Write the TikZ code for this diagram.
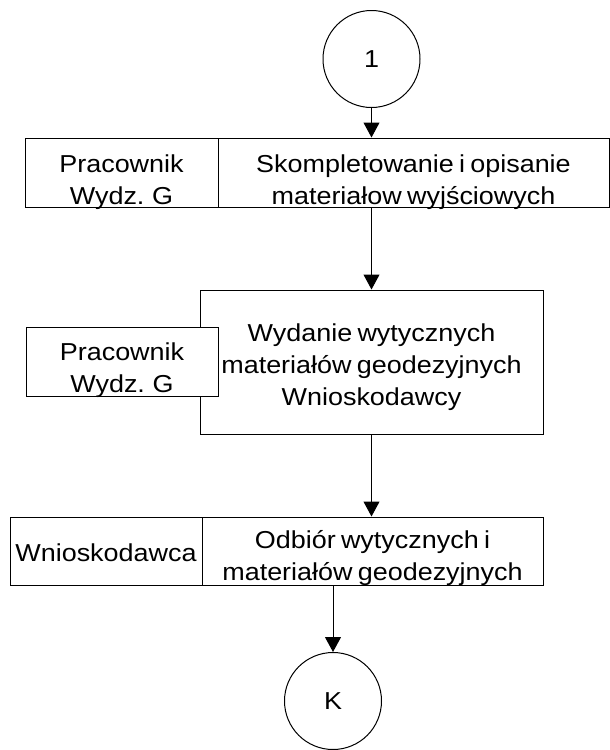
\documentclass[tikz,border=0pt]{standalone}
\usepackage{fontspec}
\setmainfont{Liberation Sans}[FakeStretch=1.1,WordSpace=0.7]
\usetikzlibrary{arrows.meta}
\begin{document}
\begin{tikzpicture}
[x=1pt,y=-1pt,
 boxdecorate/.style={shape=rectangle,draw,line width=1pt,fill=white,inner sep=0pt},%
 circledecorate/.style={shape=circle,draw,line width=1pt,inner sep=0pt,minimum size=97pt},%
 textdecorate/.style={align=center,inner sep=0pt,font=\fontsize{24.5}{32}\selectfont},%
 linedecorate/.style={-{Triangle[length=15pt,width=16pt]},line width=1pt}]
\useasboundingbox (0,0) rectangle (610,750);
%% connectors
\node (one) at (371.5,59) [circledecorate,textdecorate] {1};
\node (k) at (333,701) [circledecorate,textdecorate] {K};
%% boxes
\foreach \nodename/\x/\y/\w/\h in {kompletowaniepr/121.5/172.5/193/69,
  kompletowanie/413.5/172.5/391/69, wydanie/371.5/362/343/144,
  wydaniepr/122/361.5/192/69, odbiorwn/106/551/192/68, odbior/372.5/551/341/68} {
  \node (\nodename) at (\x,\y) [boxdecorate,minimum width=\w pt,minimum height=\h pt] {};
}
%% texts
\foreach \nodename/\dy/\txt in {kompletowaniepr/10/{Pracownik\\Wydz. G},
  kompletowanie/10/{Skompletowanie i opisanie\\materiałow wyjściowych},
  wydanie/5/{Wydanie wytycznych\\materiałów geodezyjnych\\Wnioskodawcy},
  wydaniepr/8.5/{Pracownik\\Wydz. G}, odbiorwn/2/{Wnioskodawca},
  odbior/7/{Odbiór wytycznych i\\materiałów geodezyjnych}} {
  \node (\nodename-text) at ([yshift=-\dy pt]\nodename.center) [textdecorate] {\txt};
}
%% edges or lines
\path (one) edge[linedecorate] (one |- kompletowanie.north)
  (wydanie |- kompletowanie.south) edge[linedecorate] (wydanie)
  (wydanie) edge[linedecorate] (wydanie |- odbior.north)
  (k |- odbior.south) edge[linedecorate] (k);
\end{tikzpicture}
\end{document}
